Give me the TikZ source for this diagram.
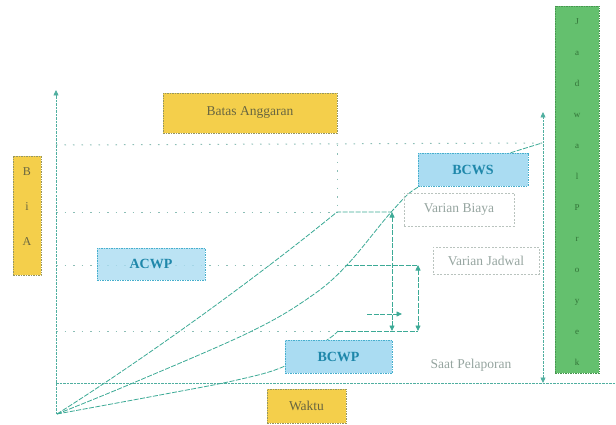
\documentclass[tikz,border=0pt]{standalone}
\usepackage{fontspec}
\setmainfont{Liberation Serif}
\usetikzlibrary{arrows.meta}
\definecolor{teal1}{RGB}{60,170,150}
\definecolor{guidec}{RGB}{140,190,182}
\definecolor{axisc}{RGB}{80,175,160}
\definecolor{yel}{RGB}{244,207,75}
\definecolor{yelb}{RGB}{150,150,95}
\definecolor{yelt}{RGB}{105,102,65}
\definecolor{blu}{RGB}{170,220,242}
\definecolor{blub}{RGB}{70,175,205}
\definecolor{blut}{RGB}{30,135,170}
\definecolor{grn}{RGB}{100,192,110}
\definecolor{grnb}{RGB}{70,150,80}
\definecolor{grnt}{RGB}{50,115,55}
\definecolor{grayt}{RGB}{150,165,160}
\definecolor{varb}{RGB}{185,195,190}
\begin{document}
\begin{tikzpicture}[x=1pt,y=-1pt,
  box/.style={rectangle, inner sep=0pt, line width=0.8pt, dash pattern=on 1.5pt off 1pt},
  yelbox/.style={box, fill=yel, draw=yelb, text=yelt, font=\fontsize{13.5}{15}\selectfont},
  blubox/.style={box, fill=blu, draw=blub, text=blut, font=\fontsize{14}{16}\selectfont\bfseries},
  varbox/.style={rectangle, inner sep=0pt, draw=varb, line width=0.6pt, dash pattern=on 2pt off 1.5pt, text=grayt, font=\fontsize{13.5}{15}\selectfont},
  grnbox/.style={box, fill=grn, draw=grnb},
  curve/.style={draw=teal1, line width=0.8pt, dash pattern=on 5pt off 1.5pt},
  guide/.style={draw=guidec, line width=1pt, dash pattern=on 1.5pt off 7pt},
  axis/.style={draw=axisc, line width=0.7pt, dash pattern=on 2.5pt off 1pt},
  tip/.style={-{Triangle[width=5pt,length=5.5pt]}},
  dtip/.style={{Triangle[width=5pt,length=5.5pt]}-{Triangle[width=5pt,length=5.5pt]}},
]
\useasboundingbox (0,0) rectangle (616,425);
\fill[white] (0,0) rectangle (616,425);

% key coordinates
\coordinate (O) at (57,414);
\coordinate (yb) at (56,414);
\coordinate (ytop) at (56,90);
\coordinate (x0) at (56,383);
\coordinate (x1) at (616,383);
\coordinate (acwpEnd) at (337,212);
\coordinate (bcwsRep) at (347,265);
\coordinate (bcwsEnd) at (542,143);
\coordinate (bcwpEnd) at (338,331);
\coordinate (vb1) at (392,212);
\coordinate (vb2) at (392,331);
\coordinate (vj1) at (418,265);
\coordinate (vj2) at (418,331);
\coordinate (sa1) at (367,314);
\coordinate (sa2) at (402,314);
\coordinate (ta1) at (543,383);
\coordinate (ta2) at (543,112);

% guide lines
\draw[guide] (56,145) -- (bcwsEnd);
\draw[guide] (56,212) -- (acwpEnd);
\draw[guide] (56,265) -- (bcwsRep);
\draw[guide] (56,331) -- (bcwpEnd);
\draw[guide] (337,145) -- (acwpEnd);

% axes
\draw[axis, tip] (yb) -- (ytop);
\draw[axis] (x0) -- (x1);

% curves
\draw[curve] (O) .. controls (150,355) and (260,275) .. (acwpEnd) -- (vb1);
\draw[curve] plot[smooth, tension=0.6] coordinates {(57,414) (133,383) (250,332) (310,297) (347,265) (393,210) (420,186) (470,166) (542,143)};
\draw[curve] (bcwsRep) -- (vj1);
\draw[curve] plot[smooth, tension=0.6] coordinates {(57,414) (160,395) (237,380) (285,366) (327,340) (338,331)};
\draw[curve] (bcwpEnd) -- (vj2);

% boxes
\node[yelbox, minimum width=174, minimum height=40] (batas) at (250,113) {Batas Anggaran};
\node[yelbox, minimum width=28, minimum height=119] (biaya) at (27,215.5) {};
\node[text=yelt, font=\fontsize{12}{35}\selectfont, align=center] (biayatxt) at (27,207) {B\\i\\A};
\node[blubox, fill opacity=0.8, text opacity=1, minimum width=108, minimum height=32] (acwp) at (151,264) {ACWP};
\node[blubox, minimum width=110, minimum height=33] (bcws) at (473,169.5) {BCWS};
\node[varbox, minimum width=110, minimum height=33] (vbiaya) at (459,209.5) {Varian Biaya};
\node[varbox, minimum width=106, minimum height=27] (vjadwal) at (486,260.5) {Varian Jadwal};
\node[blubox, minimum width=107, minimum height=33] (bcwp) at (338.5,356.5) {BCWP};
\node[yelbox, minimum width=79, minimum height=34] (waktu) at (306.5,406) {Waktu};
\node[text=grayt, font=\fontsize{13.5}{15}\selectfont] (saat) at (471,365) {Saat Pelaporan};
\node[grnbox, minimum width=44, minimum height=367] (jadwal) at (577,189.5) {};
\node[text=grnt, font=\fontsize{9}{31}\selectfont, align=center] (jadwaltxt) at (577,192) {J\\a\\d\\w\\a\\l\\P\\r\\o\\y\\e\\k};

% arrows
\draw[curve, dtip] (vb1) -- (vb2);
\draw[curve, dtip] (vj1) -- (vj2);
\draw[curve, tip] (sa1) -- (sa2);
\draw[axis, dtip] (ta1) -- (ta2);
\end{tikzpicture}
\end{document}
